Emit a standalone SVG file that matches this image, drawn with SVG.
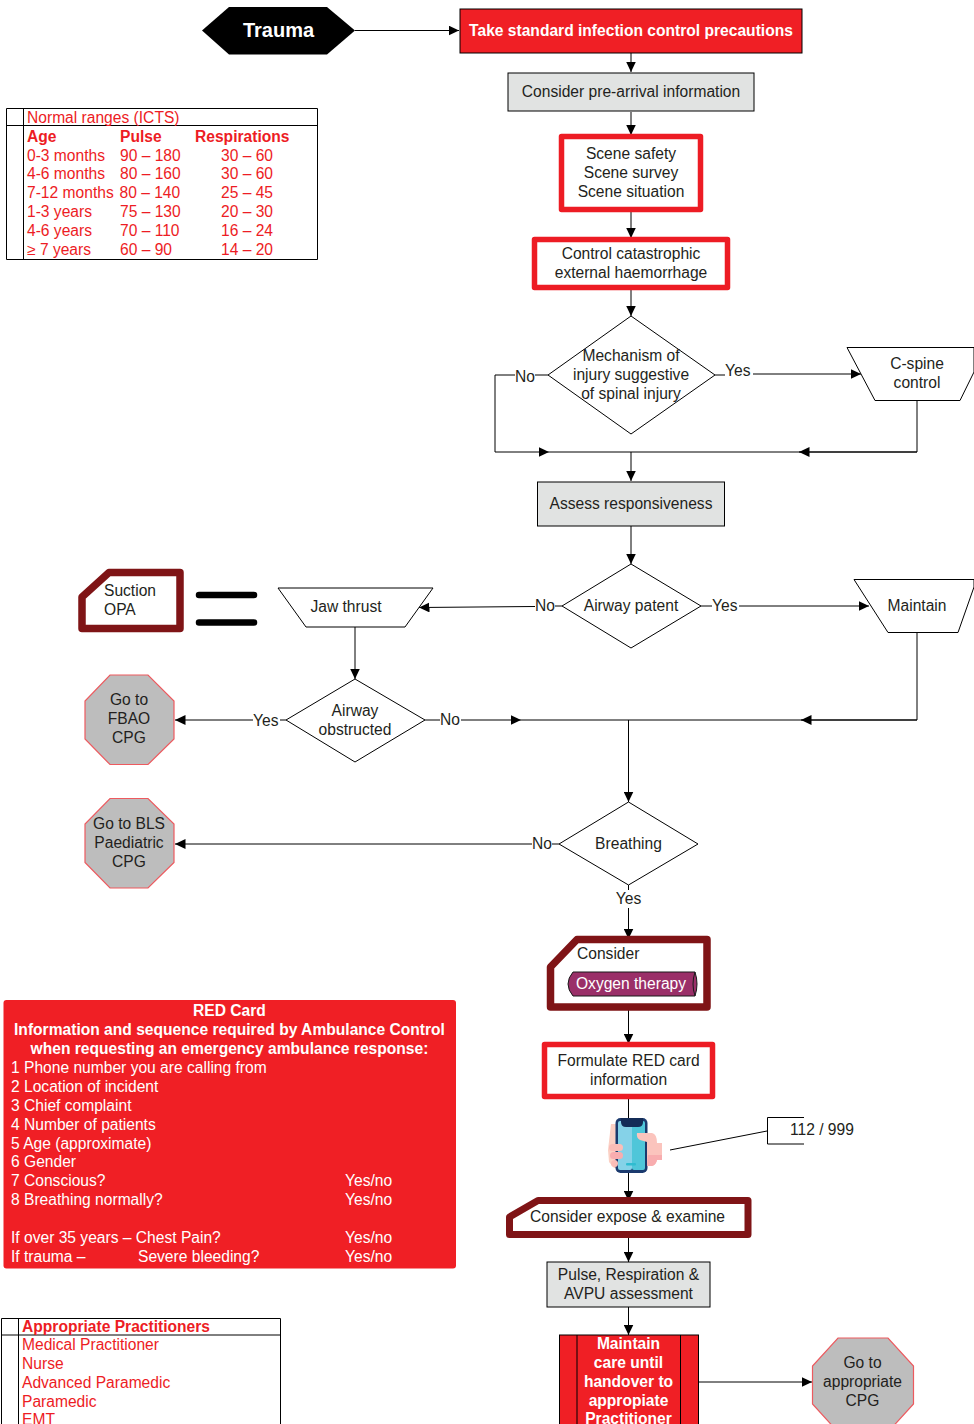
<svg xmlns="http://www.w3.org/2000/svg" width="974" height="1424" viewBox="0 0 974 1424">
<style>
text{font-family:"Liberation Sans",Arial,sans-serif;font-size:15.6px;fill:#231f20}
.c{text-anchor:middle}
.b{font-weight:bold}
.r{fill:#ed1c24}
.w{fill:#fff}
.ln{fill:none;stroke:#000;stroke-width:1}
.n{fill:#fff;stroke:#000;stroke-width:1}
.g{fill:#e1e3e2;stroke:#000;stroke-width:1}
.red{fill:#f01f25;stroke:#000;stroke-width:1}
.oct{fill:#bdbdbd;stroke:#ed5a5f;stroke-width:1.2}
.rb{fill:#fff;stroke:#ed1c24;stroke-width:5.5;stroke-linejoin:round}
.mr{fill:#fff;stroke:#7f1416;stroke-width:7;stroke-linejoin:round}
</style>
<defs>
<marker id="a" markerUnits="userSpaceOnUse" markerWidth="11" markerHeight="10" refX="10.5" refY="5" orient="auto"><path d="M0 0L10.5 5L0 10Z" fill="#000"/></marker>
</defs>
<rect width="974" height="1424" fill="#fff"/>
<g id="connectors">
<path class="ln" marker-end="url(#a)" d="M355 30.5H459"/>
<path class="ln" marker-end="url(#a)" d="M631 53V72"/>
<path class="ln" marker-end="url(#a)" d="M631 112V135"/>
<path class="ln" marker-end="url(#a)" d="M631 211V238"/>
<path class="ln" marker-end="url(#a)" d="M631 290V316"/>
<path class="ln" d="M715 375H725"/>
<path class="ln" marker-end="url(#a)" d="M753 374H861"/>
<path class="ln" d="M548 375H535"/>
<path class="ln" marker-end="url(#a)" d="M515 375H495V452H549"/>
<path class="ln" d="M549 452H917V400"/>
<path class="ln" marker-end="url(#a)" d="M917 452H799"/>
<path class="ln" marker-end="url(#a)" d="M631 452V481"/>
<path class="ln" marker-end="url(#a)" d="M631 526V564"/>
<path class="ln" d="M701 606H712"/>
<path class="ln" marker-end="url(#a)" d="M739 606H869"/>
<path class="ln" d="M562 606H555"/>
<path class="ln" marker-end="url(#a)" d="M535 606.500L419 607.500"/>
<path class="ln" marker-end="url(#a)" d="M355 627V679"/>
<path class="ln" d="M286 720H280"/>
<path class="ln" marker-end="url(#a)" d="M253 720H175"/>
<path class="ln" d="M425 720H440"/>
<path class="ln" marker-end="url(#a)" d="M461 720H521"/>
<path class="ln" d="M521 720H917V633"/>
<path class="ln" marker-end="url(#a)" d="M917 720H801"/>
<path class="ln" marker-end="url(#a)" d="M628.500 720V802"/>
<path class="ln" d="M559 844H552"/>
<path class="ln" marker-end="url(#a)" d="M532 844H175"/>
<path class="ln" d="M628.500 885V890"/>
<path class="ln" marker-end="url(#a)" d="M628.500 908V939"/>
<path class="ln" marker-end="url(#a)" d="M628.500 1007V1044"/>
<path class="ln" marker-end="url(#a)" d="M628.500 1098V1201"/>
<path class="ln" marker-end="url(#a)" d="M628.500 1234V1262"/>
<path class="ln" marker-end="url(#a)" d="M628.500 1306V1335"/>
<path class="ln" marker-end="url(#a)" d="M698 1382H812"/>
<path class="ln" d="M670 1150L767 1131"/>
</g>
<g id="trauma"><path d="M202 30.500L229 7H327L355 30.500L327 54.500H229Z" fill="#000"/><text class="c b w" x="278.500" y="37" style="font-size:20px">Trauma</text></g>
<g id="precautions"><rect class="red" x="460" y="9" width="342" height="44"/><text class="c b w" x="631" y="36">Take standard infection control precautions</text></g>
<g id="prearrival"><rect class="g" x="508" y="73" width="246" height="38"/><text class="c" x="631" y="97">Consider pre-arrival information</text></g>
<g id="scene"><rect class="rb" x="561.500" y="136.500" width="139" height="73"/><text class="c" x="631" y="159">Scene safety</text><text class="c" x="631" y="178">Scene survey</text><text class="c" x="631" y="197">Scene situation</text></g>
<g id="catastrophic"><rect class="rb" x="534.500" y="239.500" width="193" height="48"/><text class="c" x="631" y="259">Control catastrophic</text><text class="c" x="631" y="278">external haemorrhage</text></g>
<g id="mechanism"><path class="n" d="M631 316L715 375L631 434L548 375Z"/><text class="c" x="631" y="361">Mechanism of</text><text class="c" x="631" y="380">injury suggestive</text><text class="c" x="631" y="399">of spinal injury</text><text x="515" y="382">No</text><text x="725" y="376">Yes</text></g>
<g id="cspine"><path class="n" d="M847 347.500H974V372L960 400.500H875Z"/><text class="c" x="917" y="369">C-spine</text><text class="c" x="917" y="388">control</text></g>
<g id="responsiveness"><rect class="g" x="537.500" y="482" width="187" height="44"/><text class="c" x="631" y="509">Assess responsiveness</text></g>
<g id="airway-patent"><path class="n" d="M631 564L701 606L631 648L562 606Z"/><text class="c" x="631" y="611">Airway patent</text><text x="535" y="611">No</text><text x="712" y="611">Yes</text></g>
<g id="maintain"><path class="n" d="M854 579.500H974V587L958 632.500H888Z"/><text class="c" x="917" y="611">Maintain</text></g>
<g id="jaw-thrust"><path class="n" d="M278 588H433L405 627H306Z"/><text class="c" x="346" y="612">Jaw thrust</text></g>
<g id="suction"><path class="mr" d="M109 572.500H180V628.500H82V597Z" style="stroke-width:7.500"/><text x="104" y="596">Suction</text><text x="104" y="615">OPA</text></g>
<g id="equals"><path d="M199 595H254M199 622.500H254" stroke="#000" stroke-width="6.500" stroke-linecap="round" fill="none"/></g>
<g id="airway-obstructed"><path class="n" d="M355 679L425 720L355 762L286 720Z"/><text class="c" x="355" y="716">Airway</text><text class="c" x="355" y="735">obstructed</text><text x="253" y="726">Yes</text><text x="440" y="725">No</text></g>
<g id="fbao"><path class="oct" d="M110 675H148L174 701V739L148 764.500H110L85 739V701Z"/><text class="c" x="129" y="705">Go to</text><text class="c" x="129" y="724">FBAO</text><text class="c" x="129" y="743">CPG</text></g>
<g id="bls"><path class="oct" d="M110 798.500H148L174 824V862.500L148 888H110L85 862.500V824Z"/><text class="c" x="129" y="829">Go to BLS</text><text class="c" x="129" y="848">Paediatric</text><text class="c" x="129" y="867">CPG</text></g>
<g id="breathing"><path class="n" d="M628.500 802L698 844L628.500 885L559 844Z"/><text class="c" x="628.500" y="849">Breathing</text><text x="532" y="849">No</text><text class="c" x="628.500" y="904">Yes</text></g>
<g id="oxygen"><path class="mr" d="M577 939.500H707V1007H550.500V967Z" style="stroke-width:7.500"/><text x="577" y="959">Consider</text><path d="M573 972H695Q699 984 695 996H573Q563 984 573 972Z" fill="#9a2f68" stroke="#1a1a1a"/><path d="M695 972Q691 984 695 996" fill="none" stroke="#1a1a1a"/><text class="c w" x="631" y="989">Oxygen therapy</text></g>
<g id="formulate"><rect class="rb" x="544.500" y="1044.500" width="168" height="52"/><text class="c" x="628.500" y="1066">Formulate RED card</text><text class="c" x="628.500" y="1085">information</text></g>
<g id="phone">
<path d="M611 1124H619V1168H614L609 1162L608 1150Z" fill="#fbd0c4"/>
<rect x="615.500" y="1118" width="32" height="55" rx="5" fill="#1b3a6e"/>
<rect x="618" y="1121" width="14" height="49" rx="2" fill="#85d2e8"/>
<rect x="632" y="1121" width="13" height="49" rx="2" fill="#4fc6d9"/>
<path d="M621 1118H643V1122Q643 1127 638 1127H626Q621 1127 621 1122Z" fill="#142c57"/>
<rect x="626" y="1163" width="10" height="2.500" rx="1" fill="#2fbcd0"/>
<path d="M637 1133H652Q657 1134 657 1143H662V1160H657Q656 1165 652 1166H647V1142L640 1140Q636 1138 637 1133Z" fill="#fbc4bd"/>
<path d="M648 1155H662V1160H657Q656 1165 652 1166H647Z" fill="#f8adaf"/>
<rect x="609" y="1144" width="14" height="7" rx="3.500" fill="#fbbdb7"/><rect x="610" y="1152" width="13" height="7" rx="3.500" fill="#f8adaf"/><rect x="611" y="1160" width="7" height="7" rx="3.500" fill="#fbbdb7"/>
</g>
<g id="annotation"><path class="ln" d="M804 1117.500H767.500V1144H804"/><text x="790" y="1135">112 / 999</text></g>
<g id="expose"><path class="mr" d="M538 1200.500H748V1234.500H509.500V1217Z" style="stroke-width:7"/><text x="530" y="1222">Consider expose &amp; examine</text></g>
<g id="pulse"><rect class="g" x="547" y="1262" width="163" height="45"/><text class="c" x="628.500" y="1280">Pulse, Respiration &amp;</text><text class="c" x="628.500" y="1299">AVPU assessment</text></g>
<g id="handover"><rect class="red" x="559.500" y="1335" width="139" height="100"/><path class="ln" d="M577 1335V1424M680.500 1335V1424"/><g class="b"><text class="c b w" x="628.500" y="1349">Maintain</text><text class="c b w" x="628.500" y="1368">care until</text><text class="c b w" x="628.500" y="1387">handover to</text><text class="c b w" x="628.500" y="1406">appropiate</text><text class="c b w" x="628.500" y="1424">Practitioner</text></g></g>
<g id="cpg"><path class="oct" d="M838 1338H888L913.500 1366V1404L888 1432H838L812.500 1404V1366Z"/><text class="c" x="862.500" y="1368">Go to</text><text class="c" x="862.500" y="1387">appropriate</text><text class="c" x="862.500" y="1406">CPG</text></g>
<g id="normal-ranges">
<path class="n" d="M6.500 108.500H317.500V259.500H6.500Z"/><path class="ln" d="M23.500 108.500V259.500M6.500 125.500H317.500"/>
<text class="r" x="27" y="123">Normal ranges (ICTS)</text>
<g class="b"><text class="r b" x="27" y="142">Age</text><text class="r b" x="120" y="142">Pulse</text><text class="r b" x="195" y="142">Respirations</text></g>
<text class="r" x="27" y="161">0-3 months</text><text class="r" x="120" y="161">90 – 180</text><text class="r" x="221" y="161">30 – 60</text>
<text class="r" x="27" y="179">4-6 months</text><text class="r" x="120" y="179">80 – 160</text><text class="r" x="221" y="179">30 – 60</text>
<text class="r" x="27" y="198">7-12 months</text><text class="r" x="119.500" y="198">80 – 140</text><text class="r" x="221" y="198">25 – 45</text>
<text class="r" x="27" y="217">1-3 years</text><text class="r" x="120" y="217">75 – 130</text><text class="r" x="221" y="217">20 – 30</text>
<text class="r" x="27" y="236">4-6 years</text><text class="r" x="120" y="236">70 – 110</text><text class="r" x="221" y="236">16 – 24</text>
<text class="r" x="27" y="255">≥ 7 years</text><text class="r" x="120" y="255">60 – 90</text><text class="r" x="221" y="255">14 – 20</text>
</g>
<g id="red-card">
<rect x="3.500" y="1000" width="452.500" height="268.500" rx="3" fill="#f01f25"/>
<text class="c b w" x="229.500" y="1016">RED Card</text>
<text class="c b w" x="229.500" y="1035">Information and sequence required by Ambulance Control</text>
<text class="c b w" x="229.500" y="1054">when requesting an emergency ambulance response:</text>
<text class="w" x="11" y="1073">1 Phone number you are calling from</text>
<text class="w" x="11" y="1092">2 Location of incident</text>
<text class="w" x="11" y="1111">3 Chief complaint</text>
<text class="w" x="11" y="1130">4 Number of patients</text>
<text class="w" x="11" y="1149">5 Age (approximate)</text>
<text class="w" x="11" y="1167">6 Gender</text>
<text class="w" x="11" y="1186">7 Conscious?</text><text class="w" x="345" y="1186">Yes/no</text>
<text class="w" x="11" y="1205">8 Breathing normally?</text><text class="w" x="345" y="1205">Yes/no</text>
<text class="w" x="11" y="1243">If over 35 years – Chest Pain?</text><text class="w" x="345" y="1243">Yes/no</text>
<text class="w" x="11" y="1262">If trauma –</text><text class="w" x="138" y="1262">Severe bleeding?</text><text class="w" x="345" y="1262">Yes/no</text>
</g>
<g id="practitioners">
<path class="n" d="M1.500 1318.500H280.500V1440H1.500Z"/><path class="ln" d="M18.500 1318.500V1424M1.500 1335H280.500"/>
<text class="r b" x="22" y="1332">Appropriate Practitioners</text>
<text class="r" x="22" y="1350">Medical Practitioner</text>
<text class="r" x="22" y="1369">Nurse</text>
<text class="r" x="22" y="1388">Advanced Paramedic</text>
<text class="r" x="22" y="1407">Paramedic</text>
<text class="r" x="22" y="1425">EMT</text>
</g>
</svg>
